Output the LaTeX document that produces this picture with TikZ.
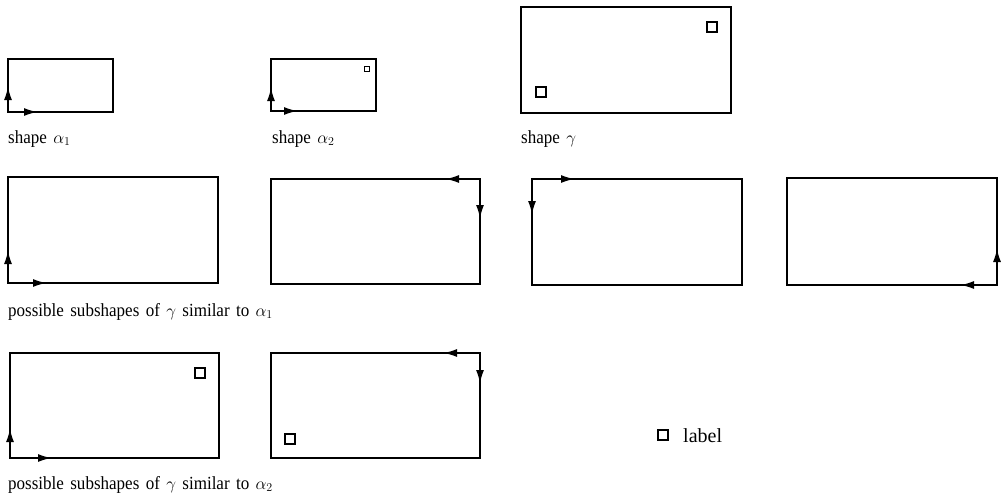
\documentclass[tikz,border=0pt]{standalone}
\usepackage{fontspec}
\setmainfont[WordSpace=1.5,FakeStretch=0.92]{Liberation Serif}
\newfontfamily\legendfont{Liberation Serif}
\usetikzlibrary{arrows.meta}
\begin{document}
\begin{tikzpicture}[x=1pt,y=-1pt,
    box/.style={line width=1.1pt},
    tag/.style={line width=1.1pt},
    dir/.style={line width=1.1pt, -{Latex[length=13pt,width=8pt]}},
    caption/.style={anchor=base west, inner sep=0pt, font=\fontsize{18.5}{22}\selectfont}]
    \useasboundingbox (0,0) rectangle (1006,498);
    % Shape alpha_1
    \draw[box] (8,59) rectangle (113,112);
    \draw[dir] (8,112) -- (8,87);
    \draw[dir] (8,112) -- (37,112);
    \node[caption] (capa1) at (8,143) {shape $\alpha_1$};
    % Shape alpha_2
    \draw[box] (271,59) rectangle (376,111);
    \draw[tag, line width=0.8pt] (364,66) rectangle (369,71);
    \draw[dir] (271,111) -- (271,88);
    \draw[dir] (271,111) -- (297,111);
    \node[caption] (capa2) at (272,143) {shape $\alpha_2$};
    % Shape gamma
    \draw[box] (521,7) rectangle (731,113);
    \draw[tag] (707,22) rectangle (717,32);
    \draw[tag] (536,87) rectangle (546,97);
    \node[caption] (capg) at (521,143) {shape $\gamma$};
    % Subshapes similar to alpha_1
    \draw[box] (8,177) rectangle (218,283);
    \draw[dir] (8,283) -- (8,251);
    \draw[dir] (8,283) -- (46,283);
    \draw[box] (271,179) rectangle (480,284);
    \draw[dir] (480,179) -- (446,179);
    \draw[dir] (480,179) -- (480,218);
    \draw[box] (532,179) rectangle (742,285);
    \draw[dir] (532,179) -- (574,179);
    \draw[dir] (532,179) -- (532,214);
    \draw[box] (787,178) rectangle (997,285);
    \draw[dir] (997,285) -- (961,285);
    \draw[dir] (997,285) -- (997,249);
    \node[caption] (capr2) at (8,316) {possible subshapes of $\gamma$ similar to $\alpha_1$};
    % Subshapes similar to alpha_2
    \draw[box] (10,353) rectangle (219,458);
    \draw[tag] (195,368) rectangle (205,378);
    \draw[dir] (10,458) -- (10,429);
    \draw[dir] (10,458) -- (51,458);
    \draw[box] (271,353) rectangle (480,458);
    \draw[tag] (285,434) rectangle (295,444);
    \draw[dir] (480,353) -- (444,353);
    \draw[dir] (480,353) -- (480,383);
    \node[caption] (capr3) at (8,489) {possible subshapes of $\gamma$ similar to $\alpha_2$};
    % Legend
    \draw[tag] (658,430) rectangle (668,440);
    \node[caption, font=\fontsize{20}{22}\legendfont] (leg) at (683,442) {label};
\end{tikzpicture}
\end{document}
